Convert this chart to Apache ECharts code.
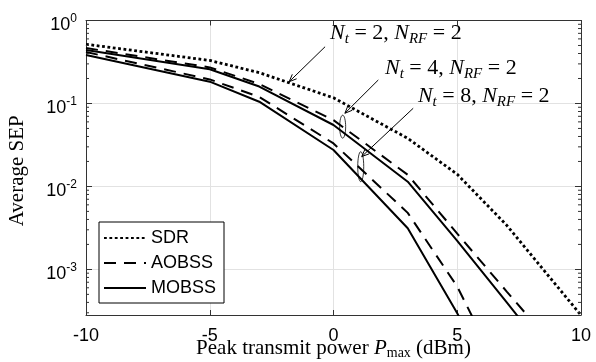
<!DOCTYPE html>
<html>
<head>
<meta charset="utf-8">
<script src="https://cdn.jsdelivr.net/npm/echarts@6/dist/echarts.min.js"></script>
<style>
  html, body { margin: 0; padding: 0; background: #fff; }
  #chart { width: 596px; height: 362px; }
</style>
</head>
<body>
<div id="chart"></div>
<script>
// peak transmit power (dBm) and average SEP
const pmax = [-10, -5, -3, 0, 3, 5, 7, 10];
const sepSDR = [0.517, 0.33, 0.235, 0.117, 0.038, 0.014, 0.0034, 0.00028];
const sepAobss4 = [0.466, 0.272, 0.172, 0.063, 0.0138, 0.0027, 0.00054, 0.00005];
const sepMobss4 = [0.44, 0.258, 0.16, 0.055, 0.0114, 0.0022, 0.0004, 0.00003];
const sepAobss8 = [0.417, 0.195, 0.12, 0.033, 0.0048, 0.00062, 0.00004, 0.000001];
const sepMobss8 = [0.384, 0.183, 0.105, 0.0275, 0.00313, 0.000296, 0.00002, 0.0000005];
const xTicks = [-10, -5, 0, 5, 10];
const yMin = 2.82e-4, yMax = 1;

// annotations, in data coordinates
const annotText = ['{i|N}{s|t}{r| = 2, }{i|N}{s|RF}{r| = 2}',
                   '{i|N}{s|t}{r| = 4, }{i|N}{s|RF}{r| = 2}',
                   '{i|N}{s|t}{r| = 8, }{i|N}{s|RF}{r| = 2}'];
const annotAt = [[-0.14, 0.707], [2.08, 0.2655], [3.41, 0.122]];
const arrowFrom = [[-0.34, 0.483], [1.81, 0.192], [3.22, 0.0875]];
const arrowTo = [[-1.79, 0.183], [0.46, 0.0762], [1.14, 0.0229]];
const ellipseAt = [null, [0.37, 0.0525], [1.10, 0.0173]];
const ellipseRy = [0, 11.5, 15];

const sans = "'Liberation Sans', Arial, Helvetica, sans-serif";
const serif = "'Liberation Serif', 'Times New Roman', serif";
const axisColor = '#333';

const pairs = ys => pmax.map((x, i) => [x, ys[i]]);

// minor log ticks (2..9 per decade) inside the frame
const minorTicks = [];
for (let e = -4; e < 0; e++) {
  for (let k = 2; k <= 9; k++) {
    const v = k * Math.pow(10, e);
    if (v > yMin && v < yMax) minorTicks.push([xTicks[0], v]);
  }
}

const chart = echarts.init(document.getElementById('chart'));

const lineBase = { type: 'line', symbol: 'none', showSymbol: false, animation: false, z: 3 };

const yLabelFmt = function (v) {
  const e = Math.log10(v);
  if (Math.abs(e - Math.round(e)) > 1e-6) return '';
  return '{b|10}{s|' + Math.round(e) + '}';
};

chart.setOption({
  animation: false,
  backgroundColor: '#fff',
  grid: { left: 86, right: 15, top: 20.5, bottom: 47, containLabel: false, outerBoundsMode: 'none' },
  legend: {
    data: ['SDR', 'AOBSS', 'MOBSS'],
    orient: 'vertical',
    left: 99, top: 222,
    itemWidth: 42, itemHeight: 14, itemGap: 7,
    padding: [7, 8, 6, 4],
    backgroundColor: '#fff',
    borderColor: '#000', borderWidth: 1, borderRadius: 0,
    itemStyle: { opacity: 0 },
    textStyle: { fontFamily: sans, fontSize: 18, lineHeight: 18, color: '#000' }
  },
  xAxis: [{
    type: 'value', min: -10, max: 10, interval: 5,
    name: 'Peak transmit power {i|P}{s|max} (dBm)',
    nameLocation: 'middle', nameGap: 21, nameMoveOverlap: false,
    nameTextStyle: {
      fontFamily: serif, fontSize: 21, color: '#000', lineHeight: 24,
      rich: {
        i: { fontFamily: serif, fontSize: 21, fontStyle: 'italic', lineHeight: 24, verticalAlign: 'middle' },
        s: { fontFamily: serif, fontSize: 14, lineHeight: 14, verticalAlign: 'bottom' }
      }
    },
    axisLine: { show: true, onZero: false, lineStyle: { color: axisColor, width: 1 } },
    axisTick: { inside: true, length: 5, lineStyle: { color: axisColor } },
    axisLabel: { margin: 12, fontFamily: sans, fontSize: 18, color: '#000' },
    splitLine: { show: true, lineStyle: { color: '#e2e2e2', width: 1 } }
  }, {
    type: 'value', min: -10, max: 10, interval: 5, position: 'top',
    axisLine: { show: true, onZero: false, lineStyle: { color: axisColor, width: 1 } },
    axisTick: { inside: true, length: 5, lineStyle: { color: axisColor } },
    axisLabel: { show: false },
    splitLine: { show: false }
  }],
  yAxis: [{
    type: 'log', logBase: 10, min: yMin, max: yMax,
    name: 'Average SEP',
    nameLocation: 'middle', nameGap: 58, nameMoveOverlap: false,
    nameTextStyle: { fontFamily: serif, fontSize: 21, color: '#000', padding: [0, 0, 0, -6] },
    axisLine: { show: true, onZero: false, lineStyle: { color: axisColor, width: 1 } },
    axisTick: { inside: true, length: 6, lineStyle: { color: axisColor } },
    axisLabel: {
      margin: 9, formatter: yLabelFmt, color: '#000', padding: [6, 0, 0, 0],
      rich: {
        b: { fontFamily: sans, fontSize: 18, lineHeight: 22, verticalAlign: 'bottom', color: '#000' },
        s: { fontFamily: sans, fontSize: 12, lineHeight: 12, verticalAlign: 'top', color: '#000' }
      }
    },
    splitLine: { show: true, lineStyle: { color: '#e2e2e2', width: 1 } },
    minorTick: { show: false }
  }, {
    type: 'log', logBase: 10, min: yMin, max: yMax, position: 'right',
    axisLine: { show: true, onZero: false, lineStyle: { color: axisColor, width: 1 } },
    axisTick: { inside: true, length: 6, lineStyle: { color: axisColor } },
    axisLabel: { show: false },
    splitLine: { show: false }
  }],
  series: [
    Object.assign({}, lineBase, {
      name: 'SDR', data: pairs(sepSDR),
      lineStyle: { color: '#000', width: 2.8, type: [2.8, 2.6], cap: 'butt' },
      itemStyle: { color: '#000' }
    }),
    Object.assign({}, lineBase, {
      name: 'AOBSS', data: pairs(sepAobss4),
      lineStyle: { color: '#000', width: 2, type: [12, 8] },
      itemStyle: { color: '#000' }
    }),
    Object.assign({}, lineBase, {
      name: 'MOBSS', data: pairs(sepMobss4),
      lineStyle: { color: '#000', width: 2, type: 'solid' },
      itemStyle: { color: '#000' }
    }),
    Object.assign({}, lineBase, {
      name: 'AOBSS', data: pairs(sepAobss8),
      lineStyle: { color: '#000', width: 2, type: [12, 8] },
      itemStyle: { color: '#000' }
    }),
    Object.assign({}, lineBase, {
      name: 'MOBSS', data: pairs(sepMobss8),
      lineStyle: { color: '#000', width: 2, type: 'solid' },
      itemStyle: { color: '#000' }
    }),
    {
      type: 'custom', name: 'minorTicks', silent: true, clip: false, z: 4,
      data: minorTicks,
      renderItem: function (params, api) {
        const v = api.value(1);
        const l = api.coord([xTicks[0], v]);
        const r = api.coord([xTicks[xTicks.length - 1], v]);
        const st = { stroke: axisColor, lineWidth: 1 };
        return {
          type: 'group', children: [
            { type: 'line', shape: { x1: l[0], y1: l[1], x2: l[0] + 3, y2: l[1] }, style: st },
            { type: 'line', shape: { x1: r[0], y1: r[1], x2: r[0] - 3, y2: r[1] }, style: st }
          ]
        };
      }
    },
    {
      type: 'custom', name: 'annotations', silent: true, clip: false, z: 5,
      data: annotAt,
      renderItem: function (params, api) {
        const i = params.dataIndex;
        const p = api.coord(annotAt[i]);
        const a = api.coord(arrowFrom[i]);
        const b = api.coord(arrowTo[i]);
        const ang = Math.atan2(b[1] - a[1], b[0] - a[0]);
        const hl = 8, hw = 0.4;
        const w1 = [b[0] - hl * Math.cos(ang - hw), b[1] - hl * Math.sin(ang - hw)];
        const w2 = [b[0] - hl * Math.cos(ang + hw), b[1] - hl * Math.sin(ang + hw)];
        const children = [
          {
            type: 'text', x: p[0], y: p[1],
            style: {
              text: annotText[i], align: 'left', verticalAlign: 'middle', fill: '#000',
              rich: {
                i: { fontFamily: serif, fontSize: 22, fontStyle: 'italic', lineHeight: 27, verticalAlign: 'middle' },
                r: { fontFamily: serif, fontSize: 22, lineHeight: 27, verticalAlign: 'middle' },
                s: { fontFamily: serif, fontSize: 15, fontStyle: 'italic', lineHeight: 15, verticalAlign: 'bottom' }
              }
            }
          },
          { type: 'line', shape: { x1: a[0], y1: a[1], x2: b[0], y2: b[1] }, style: { stroke: '#000', lineWidth: 1 } },
          { type: 'polyline', shape: { points: [w1, b, w2] }, style: { stroke: '#000', lineWidth: 1, fill: null } }
        ];
        if (ellipseAt[i]) {
          const c = api.coord(ellipseAt[i]);
          children.push({ type: 'ellipse', shape: { cx: c[0], cy: c[1], rx: 3, ry: ellipseRy[i] },
            style: { stroke: '#000', lineWidth: 0.8, fill: null } });
        }
        return { type: 'group', children: children };
      }
    }
  ]
});
</script>
</body>
</html>
